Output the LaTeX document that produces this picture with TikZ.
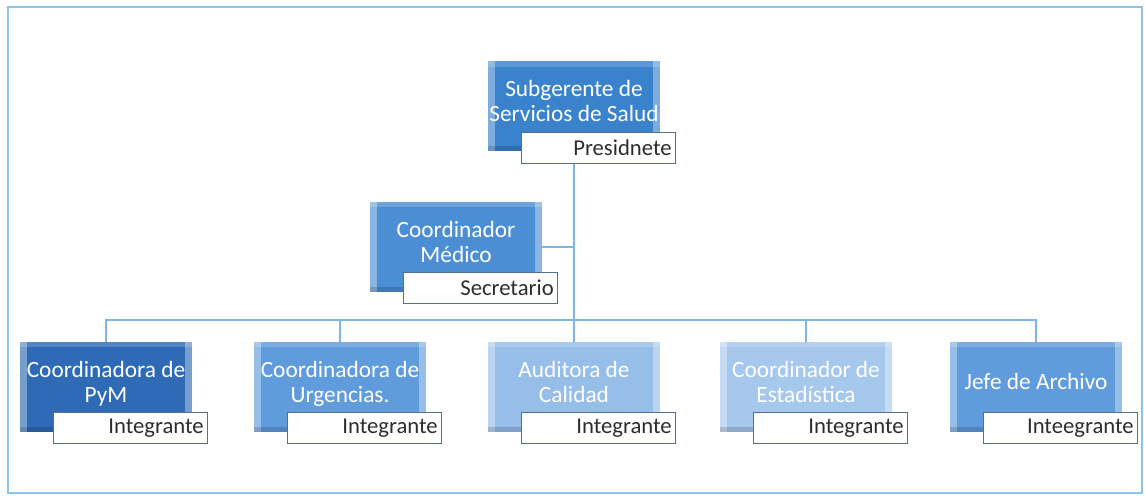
\documentclass[tikz,border=0pt]{standalone}
\usepackage{fontspec}
\setmainfont{Carlito}
\usepackage{tikz}
\usetikzlibrary{calc,positioning}
\definecolor{TopBlue}{RGB}{58,130,204}
\definecolor{MidBlue}{RGB}{76,142,211}
\definecolor{DeepBlue}{RGB}{46,106,182}
\definecolor{SoftBlue}{RGB}{96,156,220}
\definecolor{PaleBlue}{RGB}{150,190,232}
\definecolor{MistBlue}{RGB}{166,200,237}
\definecolor{LineBlue}{RGB}{122,182,232}
\definecolor{FrameBlue}{RGB}{140,196,238}
\definecolor{RoleEdge}{RGB}{80,112,150}
\definecolor{RoleText}{RGB}{45,45,45}
\newcommand\unitfont{\fontsize{17.5}{19}\selectfont}
\newcommand\rolefont{\fontsize{17}{19}\selectfont}
\tikzset{
  unitbox/.style={fill=#1,minimum width=129pt,minimum height=67.5pt,
    inner sep=1pt,text=white,align=center,font=\unitfont,text depth=8pt,
    path picture={
      \fill[white,opacity=.35] (path picture bounding box.north west) rectangle ([xshift=5pt]path picture bounding box.south west);
      \fill[white,opacity=.35] (path picture bounding box.north east) rectangle ([xshift=-5pt]path picture bounding box.south east);
      \fill[white,opacity=.18] (path picture bounding box.north west) rectangle ([yshift=-4pt]path picture bounding box.north east);
      \fill[black,opacity=.15] (path picture bounding box.south west) rectangle ([yshift=4pt]path picture bounding box.south east);
    }},
  rolebox/.style={draw=RoleEdge,fill=white,anchor=north west,
    text width=110pt,minimum height=23.25pt,inner sep=3pt,
    align=right,text=RoleText,font=\rolefont},
  orgline/.style={LineBlue,line width=1.1pt}
}
\begin{document}
\begin{tikzpicture}[x=0.75pt,y=0.75pt]
  \useasboundingbox (0,0) rectangle (1145,496);
  \draw[FrameBlue,line width=1.5pt] (8,3) rectangle (1142,489);
  % units
  \node[unitbox=TopBlue] (subgerente) at (574,389.5) {Subgerente de\\Servicios de Salud};
  \node[unitbox=MidBlue] (medico) at (456,249) {Coordinador\\Médico};
  \node[unitbox=DeepBlue] (pym) at (106,109) {Coordinadora de\\PyM};
  \node[unitbox=SoftBlue] (urgencias) at (340,109) {Coordinadora de\\Urgencias.};
  \node[unitbox=PaleBlue] (calidad) at (574,109) {Auditora de\\Calidad};
  \node[unitbox=MistBlue] (estadistica) at (806,109) {Coordinador de\\Estadística};
  \node[unitbox=SoftBlue] (archivo) at (1036,109) {Jefe de Archivo};
  % connectors
  \coordinate (bus) at (574,176);
  \draw[orgline] (subgerente.south) -- (bus);
  \draw[orgline] (medico.east) -- (medico.east -| bus);
  \draw[orgline] (pym.north) |- (bus) -| (archivo.north);
  \draw[orgline] (urgencias.north) -- (urgencias.north |- bus);
  \draw[orgline] (calidad.north) -- (bus);
  \draw[orgline] (estadistica.north) -- (estadistica.north |- bus);
  % roles
  \node[rolebox] (subgerenteR) at ($(subgerente.south west)+(33,20)$) {Presidnete};
  \node[rolebox] (medicoR) at ($(medico.south west)+(33,20)$) {Secretario};
  \node[rolebox] (pymR) at ($(pym.south west)+(33,20)$) {Integrante};
  \node[rolebox] (urgenciasR) at ($(urgencias.south west)+(33,20)$) {Integrante};
  \node[rolebox] (calidadR) at ($(calidad.south west)+(33,20)$) {Integrante};
  \node[rolebox] (estadisticaR) at ($(estadistica.south west)+(33,20)$) {Integrante};
  \node[rolebox] (archivoR) at ($(archivo.south west)+(33,20)$) {Inteegrante};
\end{tikzpicture}
\end{document}
